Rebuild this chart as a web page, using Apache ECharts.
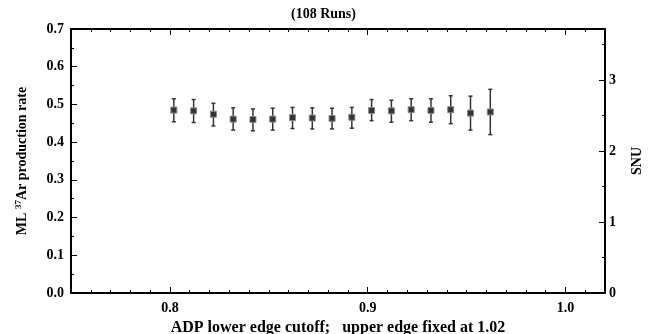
<!DOCTYPE html>
<html>
	<head>
		<meta charset="utf-8" />
		<title></title>
		<script src="https://cdn.jsdelivr.net/npm/echarts@6.0.0/dist/echarts.min.js"></script>
		<style>
			body { margin: 0; background: #fff; }
		</style>
	</head>
	<body>
		<div id="chart" style="width: 655px;height: 334px;"></div>
		<script type="text/javascript">
			// ADP lower edge cutoff
			var cutoffs = [0.802, 0.812, 0.822, 0.832, 0.842, 0.852, 0.862, 0.872, 0.882,
				0.892, 0.902, 0.912, 0.922, 0.932, 0.942, 0.952, 0.962];
			// ML 37Ar production rate
			var rates = [0.485, 0.483, 0.474, 0.461, 0.460, 0.461, 0.465, 0.464, 0.463,
				0.466, 0.484, 0.483, 0.486, 0.484, 0.486, 0.477, 0.480];
			var errLow = [0.454, 0.452, 0.443, 0.432, 0.430, 0.432, 0.436, 0.435, 0.435,
				0.437, 0.457, 0.453, 0.457, 0.453, 0.449, 0.432, 0.420];
			var errHigh = [0.515, 0.513, 0.503, 0.491, 0.488, 0.490, 0.492, 0.491, 0.490,
				0.492, 0.513, 0.511, 0.515, 0.515, 0.523, 0.522, 0.540];
			var xMajorTicks = [0.8, 0.9, 1.0];
			var xMinorTicks = [0.76, 0.77, 0.78, 0.79, 0.81, 0.82, 0.83, 0.84, 0.85, 0.86, 0.87, 0.88, 0.89,
				0.91, 0.92, 0.93, 0.94, 0.95, 0.96, 0.97, 0.98, 0.99, 1.01];
			var snuMax = 3.72; // 0.7 rate on the SNU scale

			var font = 'Liberation Serif';
			var black = '#000';

			var points = [], bars = [];
			for (var i = 0; i < cutoffs.length; i++) {
				points.push([cutoffs[i], rates[i]]);
				bars.push([cutoffs[i], errLow[i], errHigh[i]]);
			}

			function xAxisBase(pos, ticks, len, withLine) {
				return {
					type: 'value', position: pos, min: 0.75, max: 1.02,
					axisLine: { show: withLine, onZero: false, lineStyle: { color: black, width: 2 } },
					axisTick: { show: true, inside: true, length: len, customValues: ticks,
						lineStyle: { color: black, width: 1 } },
					axisLabel: { show: false },
					splitLine: { show: false }
				};
			}

			var xBottom = xAxisBase('bottom', xMajorTicks, 6, true);
			xBottom.axisLabel = {
				show: true, customValues: xMajorTicks, margin: 8,
				fontFamily: font, fontWeight: 'bold', fontSize: 14, color: black,
				formatter: function (v) { return v.toFixed(1); }
			};
			xBottom.name = 'ADP lower edge cutoff;   upper edge fixed at 1.02';
			xBottom.nameLocation = 'middle';
			xBottom.nameGap = 26;
			xBottom.nameTextStyle = { fontFamily: font, fontWeight: 'bold', fontSize: 16, color: black };

			var myChart = echarts.init(document.getElementById('chart'));
			myChart.setOption({
				animation: false,
				title: {
					text: '(108 Runs)', left: 291, top: 7, padding: 0,
					textStyle: { fontFamily: font, fontWeight: 'bold', fontSize: 14, color: black }
				},
				grid: { left: 71, right: 50, top: 29, bottom: 41, outerBoundsMode: 'none' },
				xAxis: [
					xBottom,
					xAxisBase('bottom', xMinorTicks, 3, false),
					xAxisBase('top', xMajorTicks, 6, true),
					xAxisBase('top', xMinorTicks, 3, false)
				],
				yAxis: [{
					type: 'value', position: 'left', min: 0, max: 0.7, interval: 0.1,
					name: 'ML {sup|37}Ar production rate',
					nameLocation: 'middle', nameGap: 41,
					nameTextStyle: { fontFamily: font, fontWeight: 'bold', fontSize: 14, color: black,
						rich: { sup: { fontFamily: font, fontWeight: 'bold', fontSize: 9, color: black, padding: [0, 0, 7, 0] } } },
					axisLine: { show: true, lineStyle: { color: black, width: 2 } },
					axisTick: { inside: true, length: 6, lineStyle: { color: black } },
					minorTick: { show: true, splitNumber: 2, length: 3, lineStyle: { color: black } },
					axisLabel: { margin: 7, fontFamily: font, fontWeight: 'bold', fontSize: 14, color: black,
						formatter: function (v) { return v.toFixed(1); } },
					splitLine: { show: false }
				}, {
					type: 'value', position: 'right', min: 0, max: snuMax, interval: 1,
					name: 'SNU', nameLocation: 'middle', nameGap: 25,
					nameTextStyle: { fontFamily: font, fontWeight: 'bold', fontSize: 14, color: black },
					axisLine: { show: true, lineStyle: { color: black, width: 2 } },
					axisTick: { inside: true, length: 6, lineStyle: { color: black } },
					minorTick: { show: true, splitNumber: 2, length: 3, lineStyle: { color: black } },
					axisLabel: { margin: 4, showMaxLabel: false, fontFamily: font, fontWeight: 'bold', fontSize: 14, color: black },
					splitLine: { show: false }
				}],
				series: [{
					type: 'custom',
					xAxisIndex: 0, yAxisIndex: 0,
					data: bars,
					encode: { x: 0, y: [1, 2] },
					renderItem: function (params, api) {
						var lo = api.coord([api.value(0), api.value(1)]);
						var hi = api.coord([api.value(0), api.value(2)]);
						var st = { stroke: '#333', lineWidth: 1.5 };
						return {
							type: 'group',
							children: [
								{ type: 'line', shape: { x1: lo[0], y1: lo[1], x2: hi[0], y2: hi[1] }, style: st },
								{ type: 'line', shape: { x1: lo[0] - 2, y1: lo[1], x2: lo[0] + 2, y2: lo[1] }, style: st },
								{ type: 'line', shape: { x1: hi[0] - 2, y1: hi[1], x2: hi[0] + 2, y2: hi[1] }, style: st }
							]
						};
					}
				}, {
					type: 'scatter',
					xAxisIndex: 0, yAxisIndex: 0,
					symbol: 'rect', symbolSize: 6,
					itemStyle: { color: '#333', borderColor: '#888', borderWidth: 1, opacity: 1 },
					data: points
				}]
			});
		</script>
	</body>
</html>
